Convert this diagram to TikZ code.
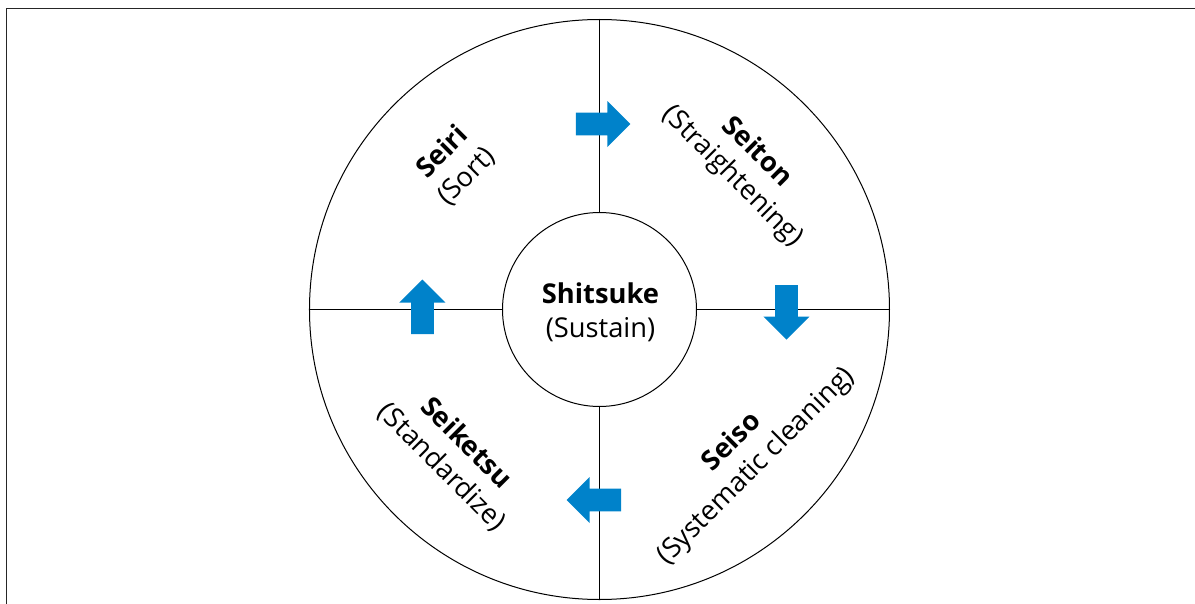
\documentclass[tikz,border=0pt]{standalone}
\usepackage{fontspec}
\setmainfont{Open Sans}
\definecolor{stepblue}{RGB}{0,130,202}
\begin{document}
\begin{tikzpicture}[x=1pt,y=1pt,
  ring/.style={draw=black,line width=1pt},
  divider/.style={draw=black,line width=1pt},
  frameline/.style={draw=black!85,line width=1.3pt},
  label/.style={align=center,font=\fontsize{27.3}{34}\selectfont,inner sep=0pt},
  blockarrow/.pic={
    \fill[stepblue] (-23.5,-11.3) -- (8,-11.3) -- (8,-23) -- (31,0)
      -- (8,23) -- (8,11.3) -- (-23.5,11.3) -- cycle;
  }]
  % canvas: origin at the centre of the wheel
  \useasboundingbox (-599.5,-293.5) rectangle (595.5,309.5);
  \draw[frameline] (-592.8,-300) -- (-592.8,301) -- (600,301);

  % wheel
  \node[ring,circle,minimum size=580pt,inner sep=0pt] (outer) at (0,0) {};
  \node[ring,circle,minimum size=194pt,inner sep=0pt] (hub) at (0,0) {};
  \node[label,font=\fontsize{27.3}{33.5}\selectfont] (hubtext) at (1,-3)
    {\textbf{Shitsuke}\\(Sustain)};

  % spokes between hub and rim
  \draw[divider] (hub.north) -- (outer.north);
  \draw[divider] (hub.east) -- (outer.east);
  \draw[divider] (hub.south) -- (outer.south);
  \draw[divider] (hub.west) -- (outer.west);

  % quadrant labels
  \node[label,rotate=45]  (seiri)    at (135:205) {\textbf{Seiri}\\(Sort)};
  \node[label,rotate=-45] (seiton)   at (45:205)  {\textbf{Seiton}\\(Straightening)};
  \node[label,rotate=45]  (seiso)    at (-45:205) {\textbf{Seiso}\\(Systematic cleaning)};
  \node[label,rotate=-45] (seiketsu) at (-135:206) {\textbf{Seiketsu}\\(Standardize)};

  % flow arrows across the spokes
  \pic at (0,185.5) {blockarrow};
  \pic[rotate=-90] at (187,1) {blockarrow};
  \pic[rotate=180] at (-1.8,-190.5) {blockarrow};
  \pic[rotate=90] at (-177,-1) {blockarrow};
\end{tikzpicture}
\end{document}
